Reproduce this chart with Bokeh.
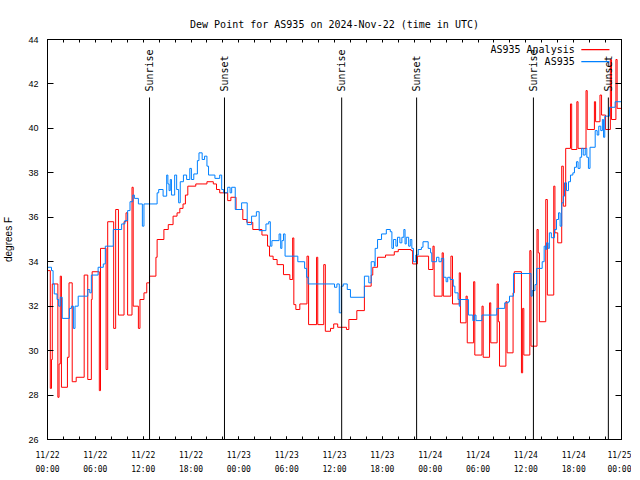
import math
from bokeh.plotting import figure
from bokeh.models import FixedTicker, LinearAxis
from bokeh.embed import file_html
from bokeh.resources import INLINE
from bokeh.core.properties import value

# ---------------- data ----------------
chart_title = "Dew Point for AS935 on 2024-Nov-22 (time in UTC)"
y_label = "degrees F"
x_start, x_end = 0, 72          # hours since 2024-11-22 00:00 UTC
y_start, y_end = 26, 44
x_tick_hours = [0, 6, 12, 18, 24, 30, 36, 42, 48, 54, 60, 66, 72]
x_tick_labels = ["11/22\n00:00", "11/22\n06:00", "11/22\n12:00", "11/22\n18:00",
                 "11/23\n00:00", "11/23\n06:00", "11/23\n12:00", "11/23\n18:00",
                 "11/24\n00:00", "11/24\n06:00", "11/24\n12:00", "11/24\n18:00",
                 "11/25\n00:00"]
x_minor_step = 2
y_ticks = [26, 28, 30, 32, 34, 36, 38, 40, 42, 44]

series_names = ["AS935 Analysis", "AS935"]
series_colors = ["#ff0000", "#0080ff"]

analysis_hours = [0.0, 0.35, 0.5, 0.6, 1.3, 1.45, 1.6, 1.75, 2.5, 2.7, 3.1, 3.6, 4.6, 5.05, 5.5, 5.6,
                  6.5, 6.65, 7.35, 7.55, 8.3, 8.55, 8.9, 9.6, 9.85, 10.05, 10.6, 10.75, 11.4, 11.6,
                  12.1, 12.45, 12.8, 13.6, 13.75, 14.6, 15.15, 15.75, 16.25, 16.6, 17.0, 17.3, 17.6,
                  18.6, 19.5, 20.0, 20.8, 21.2, 21.6, 22.6, 23.0, 23.65, 24.5, 25.0, 25.75, 26.9,
                  27.6, 27.85, 28.3, 28.8, 29.6, 30.4, 30.75, 30.9, 31.15, 31.65, 32.55, 32.75,
                  33.75, 33.9, 34.65, 34.85, 35.5, 35.9, 36.4, 37.5, 37.8, 38.8, 39.75, 40.6, 40.8,
                  41.4, 42.4, 43.5, 44.0, 45.6, 45.8, 46.4, 47.8, 48.35, 48.5, 49.5, 49.65, 50.6,
                  50.8, 51.65, 51.8, 52.5, 52.65, 53.45, 53.6, 54.5, 54.65, 55.45, 55.6, 56.4, 56.55,
                  56.7, 57.5, 57.65, 58.4, 58.55, 59.45, 59.6, 59.75, 60.5, 60.65, 61.4, 61.55, 61.7,
                  62.5, 62.7, 63.5, 63.65, 64.0, 64.5, 64.7, 65.0, 65.6, 65.75, 66.4, 66.55, 67.55,
                  67.7, 68.6, 68.75, 69.3, 69.5, 70.0, 70.6, 70.75, 71.3, 71.45, 72.0]
analysis_dewpt = [33.6, 28.3, 29.6, 33.0, 27.9, 29.4, 33.35, 28.35, 29.7, 33.05, 28.6, 28.8, 33.4, 28.7, 32.3, 33.55,
                  28.2, 34.6, 29.15, 35.8, 31.0, 36.35, 31.6, 35.8, 36.2, 31.6, 37.35, 32.0, 31.0, 32.3,
                  32.6, 33.05, 33.35, 34.2, 35.0, 35.45, 35.67, 36.05, 36.2, 36.4, 36.6, 37.0, 37.4,
                  37.5, 37.5, 37.6, 37.5, 37.25, 37.1, 36.75, 36.9, 36.35, 35.9, 35.77, 35.45, 35.2,
                  34.7, 34.25, 34.1, 33.87, 33.42, 33.2, 35.07, 32.07, 31.85, 32.1, 34.25, 31.17,
                  34.2, 31.17, 33.87, 30.87, 31.0, 31.2, 31.05, 30.95, 31.4, 31.8, 32.9, 33.4, 33.75,
                  34.2, 34.3, 34.45, 34.55, 34.5, 33.9, 34.25, 33.65, 34.7, 32.45, 34.4, 32.45, 34.25,
                  32.1, 33.5, 31.25, 32.45, 30.35, 33.1, 29.8, 32.0, 29.7, 32.15, 30.35, 33.0, 31.3,
                  29.3, 32.2, 29.9, 32.6, 33.55, 29.0, 31.9, 29.8, 34.5, 30.2, 35.45, 34.4, 31.3,
                  36.8, 32.5, 37.4, 35.3, 34.85, 38.3, 36.5, 39.1, 41.1, 39.05, 41.2, 39.1, 41.7,
                  39.95, 41.2, 40.3, 41.5, 40.6, 39.95, 43.1, 40.4, 43.1, 40.9, 40.9]

station_hours = [0.0, 0.5, 0.7, 0.85, 1.2, 1.4, 1.6, 1.85, 2.75, 3.0, 3.25, 3.45, 3.85, 5.05, 5.3, 5.5,
                 6.35, 7.0, 7.25, 8.25, 9.3, 9.7, 10.05, 10.35, 10.7, 10.9, 11.4, 11.9, 12.1, 13.75,
                 13.95, 14.5, 14.95, 15.1, 15.25, 15.4, 15.55, 15.95, 16.2, 16.45, 16.65, 17.05, 17.45,
                 17.85, 18.05, 18.35, 18.8, 19.0, 19.4, 19.7, 20.0, 20.2, 21.0, 21.6, 21.85, 22.1,
                 22.6, 22.9, 23.1, 23.55, 24.35, 25.05, 25.6, 26.2, 26.55, 27.4, 27.75, 27.95, 28.15,
                 29.05, 29.25, 29.4, 29.6, 29.8, 31.4, 32.25, 32.5, 32.7, 36.0, 36.3, 36.6, 36.85,
                 37.1, 37.6, 38.0, 39.75, 40.3, 40.6, 41.0, 41.1, 41.4, 41.9, 42.5, 43.0, 43.2, 43.4,
                 43.7, 43.9, 44.2, 44.45, 44.7, 44.85, 45.0, 45.3, 45.5, 45.7, 45.9, 46.2, 46.5, 46.9,
                 47.1, 47.75, 48.05, 48.2, 48.8, 49.1, 49.4, 49.7, 50.0, 50.2, 50.5, 50.9, 51.1, 51.5,
                 51.65, 51.75, 52.8, 53.35, 53.55, 53.75, 54.5, 56.35, 57.35, 57.8, 57.95, 58.45,
                 60.65, 60.8, 61.15, 61.35, 62.05, 62.3, 62.5, 62.6, 62.8, 62.95, 63.2, 63.6, 63.85,
                 64.1, 64.3, 64.5, 64.7, 64.85, 65.1, 65.35, 65.6, 65.9, 66.1, 66.35, 66.55, 66.8,
                 67.0, 67.2, 67.45, 67.65, 67.85, 68.05, 68.7, 68.95, 69.15, 69.4, 69.6, 69.75, 69.9,
                 70.5, 71.2, 72.0]
station_dewpt = [33.75, 33.6, 33.0, 32.55, 32.3, 32.0, 32.4, 31.45, 31.9, 32.0, 31.0, 32.0, 32.45, 32.75, 32.6, 33.4,
                 33.75, 33.9, 34.7, 35.45, 35.7, 35.85, 36.3, 36.7, 37.0, 36.85, 36.6, 35.6, 36.6, 37.1,
                 37.25, 36.95, 37.9, 37.5, 37.2, 37.7, 37.0, 37.9, 37.25, 36.65, 37.6, 37.9, 37.7,
                 38.2, 37.7, 37.95, 38.55, 38.9, 38.6, 38.75, 38.3, 37.9, 37.75, 37.9, 37.25, 37.1,
                 37.35, 37.1, 37.35, 36.35, 36.65, 35.67, 36.05, 36.25, 35.4, 35.7, 35.8, 34.7, 34.95,
                 35.25, 34.6, 34.95, 35.25, 34.25, 34.0, 33.7, 33.3, 33.0, 32.85, 33.0, 31.7, 32.9,
                 33.0, 32.75, 32.4, 33.35, 33.05, 34.0, 33.8, 34.6, 35.0, 35.25, 35.45, 35.35, 34.6, 35.0,
                 34.7, 35.1, 34.85, 35.1, 35.45, 34.8, 35.1, 34.7, 35.0, 34.6, 34.0, 34.3, 34.55, 34.65,
                 34.9, 34.6, 34.4, 34.0, 34.2, 34.0, 34.15, 33.3, 33.1, 33.3, 33.2, 32.9, 32.6, 32.3,
                 32.0, 32.3, 31.6, 31.35, 31.6, 31.35, 31.6, 31.9, 32.15, 32.2, 32.45, 33.47,
                 32.45, 32.7, 32.97, 33.7, 34.0, 34.7, 34.55, 34.85, 34.6, 35.3, 35.08, 35.45, 35.9,
                 36.2, 35.6, 36.65, 36.95, 37.55, 37.2, 37.6, 37.9, 38.0, 38.25, 38.5, 38.2, 38.7,
                 39.1, 38.8, 39.1, 38.7, 38.2, 39.15, 39.9, 39.7, 40.1, 39.9, 40.4, 39.6, 40.55,
                 40.95, 41.2, 41.2]

sun_event_hours = [12.8, 22.2, 36.9, 46.3, 60.95, 70.35]
sun_event_labels = ["Sunrise", "Sunset", "Sunrise", "Sunset", "Sunrise", "Sunset"]

# ---------------- figure ----------------
MONO = "DejaVu Sans Mono"
SANS = "Liberation Sans"

p = figure(frame_width=574, frame_height=400,
           x_range=(x_start, x_end), y_range=(y_start, y_end),
           output_backend="svg", toolbar_location=None,
           title=chart_title, x_axis_type=None, y_axis_type=None,
           min_border_left=0, min_border_right=10, min_border_top=39, min_border_bottom=0)
p.background_fill_color = "white"
p.border_fill_color = "white"
p.outline_line_color = "black"
p.outline_line_width = 1
p.xgrid.visible = False
p.ygrid.visible = False

p.title.text_font = MONO
p.title.text_font_size = "10px"
p.title.text_font_style = "normal"
p.title.align = "center"
p.title.text_color = "black"
p.title.standoff = 19

def style_axis(ax, tick_len):
    ax.axis_line_color = "black"
    ax.major_tick_line_color = "black"
    ax.minor_tick_line_color = "black"
    ax.major_tick_in = tick_len
    ax.major_tick_out = 0
    ax.minor_tick_in = tick_len
    ax.minor_tick_out = 0

xminor = list(range(x_start, x_end + 1, x_minor_step))

xb = LinearAxis(ticker=FixedTicker(ticks=x_tick_hours, minor_ticks=xminor),
                major_label_overrides=dict(zip(x_tick_hours, x_tick_labels)))
style_axis(xb, 3)
xb.major_label_text_font = MONO
xb.major_label_text_font_size = "8px"
xb.major_label_text_line_height = 1.6
xb.major_label_standoff = 11
xb.major_label_text_color = "black"
p.add_layout(xb, "below")

xt = LinearAxis(ticker=FixedTicker(ticks=[], minor_ticks=xminor))
style_axis(xt, 3)
p.add_layout(xt, "above")

yl = LinearAxis(ticker=FixedTicker(ticks=y_ticks), axis_label=y_label)
style_axis(yl, 6)
yl.major_label_text_font = SANS
yl.major_label_text_font_size = "9px"
yl.major_label_standoff = 9
yl.major_label_text_color = "black"
yl.axis_label_text_font = SANS
yl.axis_label_text_font_size = "10px"
yl.axis_label_text_font_style = "normal"
yl.axis_label_text_color = "black"
yl.axis_label_standoff = 11
p.add_layout(yl, "left")

yr = LinearAxis(ticker=FixedTicker(ticks=[], minor_ticks=y_ticks))
style_axis(yr, 6)
p.add_layout(yr, "right")

# ---------------- series ----------------
p.step(analysis_hours, analysis_dewpt, mode="after", line_color=series_colors[0], line_width=1)
p.step(station_hours, station_dewpt, mode="after", line_color=series_colors[1], line_width=1)

# ---------------- sunrise / sunset markers ----------------
yspan = y_end - y_start
sun_line_top = y_start + 0.855 * yspan
sun_text_y = y_start + 0.87 * yspan
p.segment(x0=sun_event_hours, x1=sun_event_hours,
          y0=[y_start] * len(sun_event_hours), y1=[sun_line_top] * len(sun_event_hours),
          line_color="black", line_width=1)
p.text(x=sun_event_hours, y=[sun_text_y] * len(sun_event_hours), text=sun_event_labels,
       angle=math.pi / 2, text_align="left", text_baseline="middle",
       text_font=value(MONO), text_font_size="10px", text_color="black")

# ---------------- legend (gnuplot style: text then line sample) ----------------
xspan = x_end - x_start
leg_text_x = x_start + 0.9185 * xspan
leg_line_x0 = x_start + 0.930 * xspan
leg_line_x1 = x_start + 0.979 * xspan
leg_y = [y_start + 0.9745 * yspan, y_start + 0.9445 * yspan]
for name, color, ly in zip(series_names, series_colors, leg_y):
    p.text(x=[leg_text_x], y=[ly], text=[name], text_align="right", text_baseline="middle",
           text_font=value(MONO), text_font_size="10px", text_color="black")
    p.line(x=[leg_line_x0, leg_line_x1], y=[ly, ly], line_color=color, line_width=1.3)

open("out.html", "w").write(file_html(p, INLINE))
